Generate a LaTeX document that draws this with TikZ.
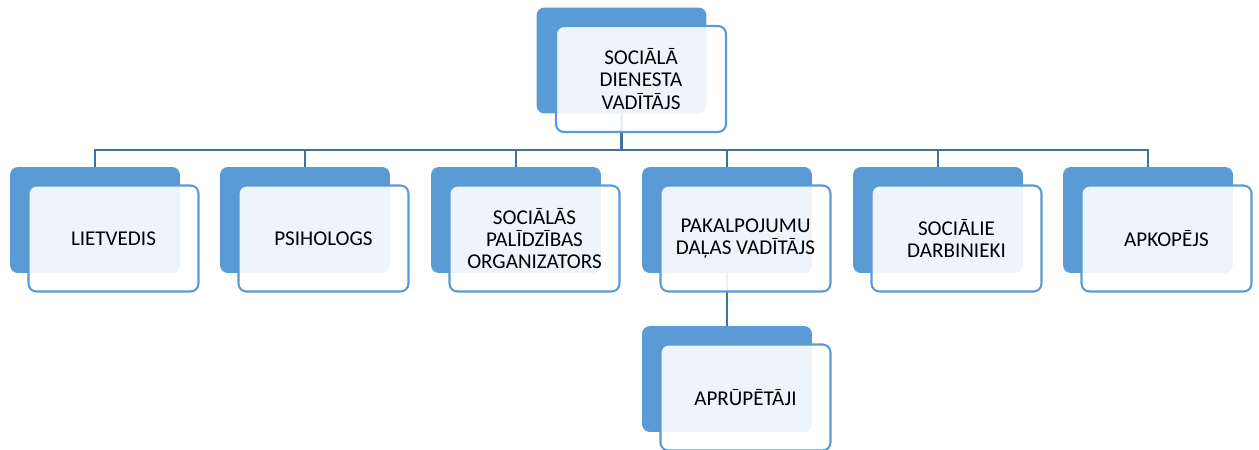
\documentclass[tikz,border=0pt]{standalone}
\usepackage{fontspec}
\setmainfont{Carlito}
\pgfdeclarelayer{background}
\pgfsetlayers{background,main}
\definecolor{boxblue}{HTML}{5B9BD5}
\definecolor{linkblue}{HTML}{41719C}

\begin{document}
\begin{tikzpicture}
  [x=0.02cm,y=-0.02cm,
   back/.style={fill=boxblue,rounded corners=4.5pt,minimum width=3.4cm,minimum height=2.12cm},
   front/.style={draw=boxblue,line width=1.2pt,fill=white,fill opacity=0.9,text opacity=1,
     rounded corners=4.5pt,minimum width=3.4cm,minimum height=2.12cm,align=center,
     inner sep=2pt,font=\fontsize{12}{12.6}\selectfont},
   link/.style={draw=linkblue,line width=1.2pt}]
  \useasboundingbox (0,0) rectangle (1259,450);
  \coordinate (bus) at (0,150);
  % head
  \node[back] (head-b) at (621.5,60.5) {};
  \node[front] (head) at (641,79) {SOCIĀLĀ\\DIENESTA\\VADĪTĀJS};
  % first level
  \foreach \name/\x/\txt in {lietv/95/LIETVEDIS,
      psih/305/PSIHOLOGS,
      org/516/{SOCIĀLĀS\\PALĪDZĪBAS\\ORGANIZATORS},
      pak/727/{PAKALPOJUMU\\DAĻAS VADĪTĀJS},
      darb/938/{SOCIĀLIE\\DARBINIEKI},
      apk/1148/APKOPĒJS} {
    \node[back] (\name-b) at (\x,220) {};
    \node[front] (\name) at (\x+18.5,238.5) {\txt};
    \begin{pgfonlayer}{background}
      \draw[link] (head-b.south) -- (head-b.south |- bus) -| (\name-b.north);
    \end{pgfonlayer}
  }
  % second level
  \node[back] (apr-b) at (727,379) {};
  \node[front] (apr) at (745.5,397.5) {APRŪPĒTĀJI};
  \begin{pgfonlayer}{background}
    \draw[link] (pak-b.south) -- (apr-b.north);
  \end{pgfonlayer}
\end{tikzpicture}
\end{document}
